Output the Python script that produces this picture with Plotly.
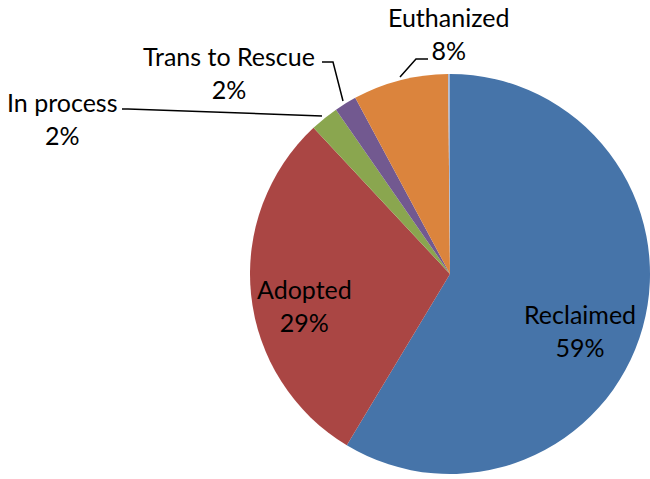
import plotly.graph_objects as go

labels = ["Reclaimed", "Adopted", "In process", "Trans to Rescue", "Euthanized", "Other"]
values = [58.6, 29.4, 2.3, 1.8, 7.7, 0.15]
colors = ["#4674A9", "#AA4644", "#8AA64F", "#725990", "#DB843D", "#A3B5D4"]

W, H = 650, 479
total = sum(values)
pct = [round(v / total * 100) for v in values]

fig = go.Figure(go.Pie(
    labels=labels, values=values, sort=False, direction="clockwise", rotation=0,
    marker=dict(colors=colors, line=dict(width=0)),
    textinfo="none", hoverinfo="label+percent",
    domain=dict(x=[250 / W, 1.0], y=[5 / H, 405 / H]),
    showlegend=False,
))

def px(x, y):
    return x / W, 1 - y / H

# label positions in pixel space (layout)
label_pos = {
    "Reclaimed": (580, 330),
    "Adopted": (304, 305),
    "In process": (62, 118),
    "Trans to Rescue": (229, 72),
    "Euthanized": (448, 34),
}
annotations = []
for lab, p in zip(labels, pct):
    if lab not in label_pos:
        continue
    x, y = px(*label_pos[lab])
    annotations.append(dict(
        x=x, y=y, xref="paper", yref="paper", showarrow=False,
        text=f"{lab}<br>{p}%", align="center",
        font=dict(family="Lato", size=25, color="#000000"),
        xanchor="center", yanchor="middle",
    ))

leaders = [
    [(400, 77), (416, 59), (428, 59)],
    [(343, 101), (333, 62), (322, 62)],
    [(322, 116), (128, 109), (122, 109)],
]
shapes = []
for pts in leaders:
    path = ""
    for i, (a, b) in enumerate(pts):
        x, y = px(a, b)
        path += ("M" if i == 0 else "L") + f"{x},{y} "
    shapes.append(dict(type="path", path=path.strip(), xref="paper", yref="paper",
                       line=dict(color="#000000", width=1.5)))

fig.update_layout(
    width=W, height=H, margin=dict(l=0, r=0, t=0, b=0),
    paper_bgcolor="white", plot_bgcolor="white",
    annotations=annotations, shapes=shapes,
)
fig.write_html("out.html", config={"displayModeBar": False},
               post_script="document.body.style.margin='0';document.body.style.overflow='hidden';")
